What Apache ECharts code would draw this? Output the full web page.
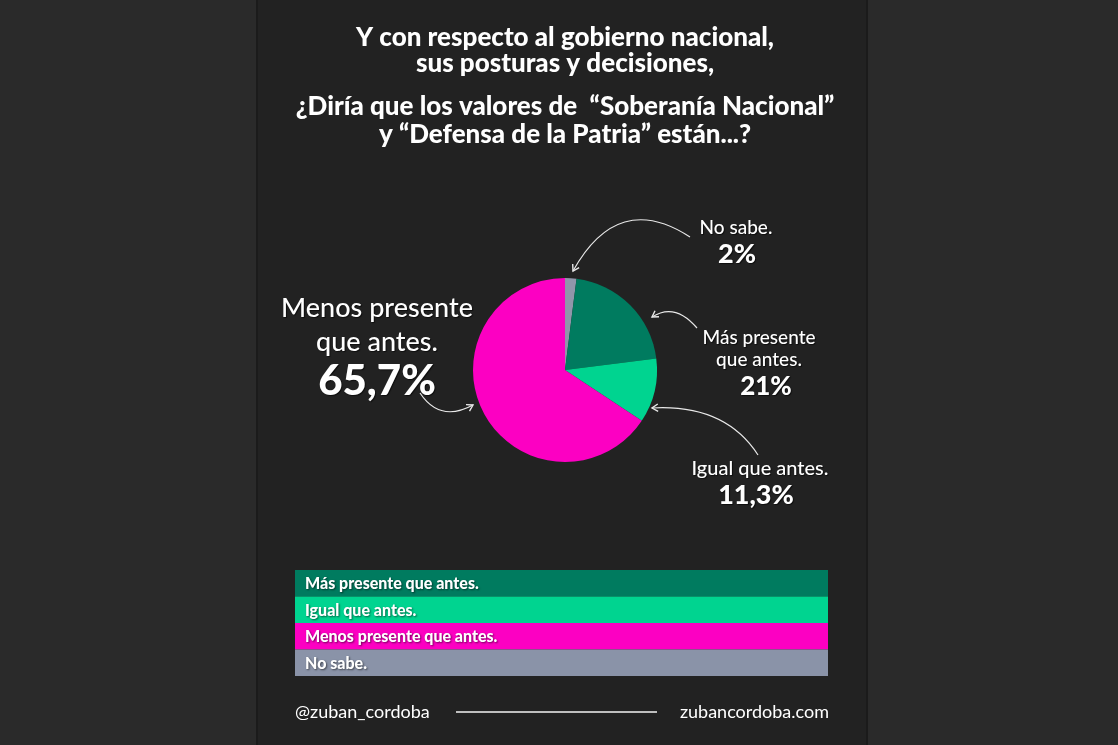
<!DOCTYPE html>
<html>
<head>
<meta charset="utf-8">
<script src="https://cdn.jsdelivr.net/npm/echarts@6/dist/echarts.min.js"></script>
<style>
  html, body { margin: 0; padding: 0; background: #2a2a2a; }
  #chart { width: 1118px; height: 745px; }
</style>
</head>
<body>
<div id="chart"></div>
<script>
    // pie data, clockwise from 12 o'clock
    var categories = ['No sabe.', 'Más presente que antes.', 'Igual que antes.', 'Menos presente que antes.'];
    var values = [2, 21, 11.3, 65.7];
    var colors = ['#9096aa', '#007b5f', '#00d490', '#fc00c2'];

    // legend rows, top to bottom (indexes into categories)
    var legendOrder = [1, 2, 3, 0];
    var legendColors = ['#007b5f', '#00d490', '#fc00c2', '#8a93a8'];

    var titleLines = [
        'Y con respecto al gobierno nacional,',
        'sus posturas y decisiones,',
        '¿Diría que los valores de  “Soberanía Nacional”',
        'y “Defensa de la Patria” están...?'
    ];

    var FONT = 'Lato, "Open Sans", sans-serif';

    function pct(v) {
        return String(v).replace('.', ',') + '%';
    }

    var chart = echarts.init(document.getElementById('chart'));

    var graphics = [];

    // dark card behind everything
    graphics.push({
        type: 'rect', z: -10,
        shape: { x: 257, y: -5, width: 610, height: 760 },
        style: { fill: '#222222', stroke: '#1b1b1b', lineWidth: 2 }
    });

    var titleY = [38, 64, 107, 135];
    titleLines.forEach(function (t, i) {
        graphics.push({
            type: 'text', z: 5,
            style: {
                text: t, x: 565, y: titleY[i], fill: '#ffffff',
                font: '900 26px ' + FONT, align: 'center', verticalAlign: 'middle'
            }
        });
    });

    function label(lines, y) {
        lines.forEach(function (l) {
            graphics.push({
                type: 'text', z: 5,
                style: {
                    text: l[0], x: l[3], y: l[1] + y, fill: '#ffffff',
                    font: l[2] + ' ' + FONT, align: 'center', verticalAlign: 'middle',
                    textShadowColor: 'rgba(0,0,0,0.6)', textShadowOffsetX: 1, textShadowOffsetY: 1, textShadowBlur: 1
                }
            });
        });
    }

    label([['Menos presente', 0, '500 27px', 377], ['que antes.', 34, '500 27px', 377], [pct(values[3]), 73, '900 42px', 377]], 308);
    label([['No sabe.', 0, '500 19px', 736], [pct(values[0]), 26, '900 27px', 737]], 228);
    label([['Más presente', 0, '500 19px', 759], ['que antes.', 22, '500 19px', 759], [pct(values[1]), 49, '900 26px', 766]], 338);
    label([['Igual que antes.', 0, '500 20px', 760], [pct(values[2]), 26, '900 27px', 756]], 469);

    function arrow(x0, y0, cx, cy, x1, y1) {
        graphics.push({
            type: 'bezierCurve', z: 4,
            shape: { x1: x0, y1: y0, cpx1: cx, cpy1: cy, x2: x1, y2: y1 },
            style: { stroke: '#e8e8e8', lineWidth: 1.2, fill: null }
        });
        var a = Math.atan2(y1 - cy, x1 - cx);
        var len = 7, spread = 0.55;
        graphics.push({
            type: 'polyline', z: 4,
            shape: { points: [
                [x1 - len * Math.cos(a - spread), y1 - len * Math.sin(a - spread)],
                [x1, y1],
                [x1 - len * Math.cos(a + spread), y1 - len * Math.sin(a + spread)]
            ] },
            style: { stroke: '#e8e8e8', lineWidth: 1.4, fill: null }
        });
    }

    arrow(690, 237, 618, 190, 573, 271);
    arrow(697, 328, 675, 302, 652, 317);
    arrow(758, 455, 725, 404, 652, 408);
    arrow(420, 393, 440, 423, 473, 405);

    // legend bars
    var legTop = 570, rowH = 26.5;
    legendOrder.forEach(function (idx, i) {
        graphics.push({
            type: 'rect', z: 3,
            shape: { x: 295, y: legTop + i * rowH, width: 533, height: rowH },
            style: { fill: legendColors[i] }
        });
        graphics.push({
            type: 'text', z: 5,
            style: {
                text: categories[idx], x: 305, y: legTop + i * rowH + rowH / 2 + 1, fill: '#ffffff',
                font: '900 16px ' + FONT, align: 'left', verticalAlign: 'middle',
                textShadowColor: 'rgba(0,0,0,0.55)', textShadowOffsetX: 1, textShadowOffsetY: 1, textShadowBlur: 2
            }
        });
    });

    // footer
    graphics.push({
        type: 'text', z: 5,
        style: { text: '@zuban_cordoba', x: 295, y: 712, fill: '#ffffff', font: '18px ' + FONT, align: 'left', verticalAlign: 'middle' }
    });
    graphics.push({
        type: 'line', z: 5,
        shape: { x1: 456, y1: 712, x2: 657, y2: 712 },
        style: { stroke: '#f4f4f4', lineWidth: 1.5 }
    });
    graphics.push({
        type: 'text', z: 5,
        style: { text: 'zubancordoba.com', x: 829, y: 712, fill: '#ffffff', font: '18px ' + FONT, align: 'right', verticalAlign: 'middle' }
    });

    var option = {
        backgroundColor: '#2a2a2a',
        animation: false,
        graphic: graphics,
        series: [{
            type: 'pie',
            center: [565, 370],
            radius: 92,
            startAngle: 90,
            clockwise: true,
            label: { show: false },
            labelLine: { show: false },
            itemStyle: { borderWidth: 0 },
            emphasis: { disabled: true },
            data: categories.map(function (c, i) {
                return { name: c, value: values[i], itemStyle: { color: colors[i] } };
            })
        }]
    };

    chart.setOption(option);
</script>
</body>
</html>
